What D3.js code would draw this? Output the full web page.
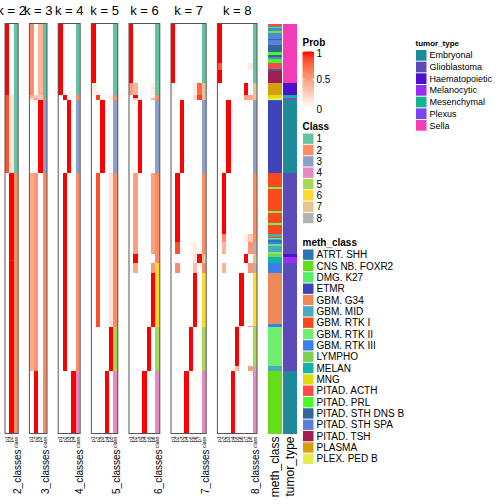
<!DOCTYPE html>
<html><head><meta charset="utf-8">
<script src="https://cdn.jsdelivr.net/npm/d3@7"></script>
<style>body{margin:0;background:#fff}svg{display:block}text{font-family:"Liberation Sans",Arial,Helvetica,sans-serif}</style>
</head><body><svg id="c" width="504" height="504"></svg>
<script>
// ---------- data ----------
const kValues = [2,3,4,5,6,7,8];
const nSamples = 342;
// runs: [number of samples, assigned class, membership probabilities p1..pk]
const runsK2 = [[60,1,[1,0]],[65,1,[0.85,0.15]],[72,2,[0,1]],[1,2,[0.06,0.94]],[144,2,[0,1]]];
const runsK3 = [[60,1,[0.6,0,0.4]],[2,1,[0.4,0.3,0.3]],[2,2,[0.2,0.5,0.3]],[61,3,[0,0,1]],[165,2,[0.45,0.55,0]],[52,2,[0,1,0]]];
const runsK4 = [[60,1,[1,0,0,0]],[4,2,[0,1,0,0]],[61,3,[0,0,1,0]],[165,2,[0,1,0,0]],[52,4,[0,0,0,1]]];
const runsK5 = [[50,1,[1,0,0,0,0]],[10,1,[0.1,0.05,0,0,0]],[4,2,[0,0.9,0,0,0.1]],[61,3,[0,0,1,0,0]],[128,2,[0,0.85,0,0,0.15]],[37,5,[0,0,0,0,1]],[52,4,[0,0,0,1,0]]];
const runsK6 = [[50,1,[1,0,0,0,0,0]],[10,1,[0.5,0.4,0,0,0,0.1]],[2,2,[0,1,0,0,0,0]],[2,2,[0,0.3,0,0,0,0.4]],[61,3,[0,0,1,0,0,0]],[67,2,[0,0.5,0,0,0,0.5]],[8,2,[0,1,0,0,0,0]],[8,6,[0,0.45,0,0,0,0.55]],[45,6,[0,0,0,0,0,1]],[37,5,[0,0,0,0,1,0]],[52,4,[0,0,0,1,0,0]]];
const runsK7 = [[50,1,[1,0,0,0,0,0,0]],[10,7,[0.05,0,0,0,0,0.1,0.75]],[4,7,[0,0,0,0,0,0.2,0.9]],[61,3,[0,0,1,0,0,0,0]],[57,2,[0,1,0,0,0,0,0]],[10,2,[0,0.85,0,0,0.05,0.1,0]],[8,7,[0,0,0,0,0,0.15,1]],[8,2,[0,0.6,0,0,0,0.35,0]],[45,6,[0,0,0,0,0,1,0]],[37,5,[0,0,0,0,1,0,0]],[52,4,[0,0,0,1,0,0,0]]];
const runsK8 = [[33,1,[1,0,0,0,0,0,0,0]],[6,1,[0.8,0,0,0,0,0,0,0.1]],[11,1,[1,0,0,0,0,0,0,0]],[10,7,[0,0,0,0,0,0,1,0]],[4,7,[0,0,0,0,0,0,0.5,0.45]],[61,3,[0,0,1,0,0,0,0,0]],[51,2,[0,1,0,0,0,0,0,0]],[6,2,[0,0.6,0,0,0,0,0.1,0.3]],[10,8,[0,0.4,0,0,0,0,0,0.55]],[8,7,[0,0,0,0,0,0,1,0]],[8,8,[0,0.4,0,0,0,0,0,0.55]],[44,6,[0,0,0,0,0,1,0,0]],[1,8,[0,0,0,0,0.3,0.2,0,0.5]],[33,5,[0,0,0,0,1,0,0,0]],[4,8,[0,0,0,0,0.35,0,0,0.5]],[52,4,[0,0,0,1,0,0,0,0]]];
const runsByK = [runsK2,runsK3,runsK4,runsK5,runsK6,runsK7,runsK8];

const methRuns = [[2,"PITAD. ACTH"],[1,"PITAD. STH SPA"],[1,"PITAD. PRL"],[2,"PITAD. STH SPA"],[2,"PITAD. PRL"],[5,"PITAD. STH SPA"],[1,"PITAD. STH DNS B"],[4,"PITAD. STH SPA"],[6,"PITAD. STH DNS B"],[2,"PITAD. PRL"],[2,"PITAD. STH DNS B"],[2,"PITAD. STH SPA"],[3,"PITAD. PRL"],[5,"PITAD. ACTH"],[2,"PITAD. STH DNS B"],[10,"PITAD. TSH"],[10,"PLASMA"],[2,"MNG"],[2,"PLEX. PED B"],[1,"ATRT. SHH"],[60,"ETMR"],[11,"GBM. RTK I"],[2,"GBM. RTK II"],[18,"GBM. RTK I"],[2,"GBM. RTK II"],[8,"GBM. RTK I"],[2,"GBM. RTK II"],[8,"GBM. RTK I"],[2,"GBM. MID"],[1,"GBM. RTK I"],[1,"GBM. RTK II"],[1,"GBM. MID"],[1,"ATRT. SHH"],[2,"GBM. RTK III"],[2,"DMG. K27"],[5,"GBM. MID"],[1,"GBM. RTK II"],[3,"LYMPHO"],[5,"MELAN"],[8,"GBM. RTK III"],[43,"GBM. G34"],[2,"GBM. RTK III"],[33,"GBM. RTK II"],[4,"GBM. MID"],[52,"CNS NB. FOXR2"]];
const tumorRuns = [[50,"Sella"],[10,"Haematopoietic"],[2,"Mesenchymal"],[2,"Plexus"],[61,"Embryonal"],[67,"Glioblastoma"],[3,"Haematopoietic"],[5,"Melanocytic"],[90,"Glioblastoma"],[52,"Embryonal"]];

const classLevels = [1,2,3,4,5,6,7,8];
const classColors = ["#66c2a5","#fc8d62","#8da0cb","#e78ac3","#a6d854","#ffd92f","#e5c494","#b3b3b3"];
const methLevels = ["ATRT. SHH","CNS NB. FOXR2","DMG. K27","ETMR","GBM. G34","GBM. MID","GBM. RTK I","GBM. RTK II","GBM. RTK III","LYMPHO","MELAN","MNG","PITAD. ACTH","PITAD. PRL","PITAD. STH DNS B","PITAD. STH SPA","PITAD. TSH","PLASMA","PLEX. PED B"];
const methColors = ["#2a74b8","#66dd1a","#55ee66","#3c44b8","#ee8a5a","#4aa8c0","#fb4a1a","#70ee70","#3a80e8","#80d050","#10b4a8","#e0dc10","#ff4848","#44ff22","#336699","#5a80dd","#a01e50","#d4a010","#e8ec50"];
const tumorLevels = ["Embryonal","Glioblastoma","Haematopoietic","Melanocytic","Mesenchymal","Plexus","Sella"];
const tumorColors = ["#1f8a9a","#5b4ab8","#4a12cc","#9b2ef2","#19b58a","#7a44ee","#f43cb8"];
const probTicks = [0,0.5,1];

// ---------- drawing ----------
const svg = d3.select("#c");
const yTop = 23.5, yBottom = 433.5;
const y = d3.scaleLinear().domain([0,nSamples]).range([yTop,yBottom]);
const probColor = d3.scaleLinear().domain([0,1]).range(["#ffffff","#ff0000"]).interpolate(d3.interpolateLab);
const classColor = d3.scaleOrdinal().domain(classLevels).range(classColors);
const methColor = d3.scaleOrdinal().domain(methLevels).range(methColors);
const tumorColor = d3.scaleOrdinal().domain(tumorLevels).range(tumorColors);

const colW = 4.4, gap = 11.2;
let x0 = 5;
kValues.forEach((k,i)=>{
  const cols = d3.range(1,k+1).map(j=>"p"+j).concat(["class"]);
  const xb = d3.scaleBand().domain(cols).range([x0, x0+cols.length*colW]);
  const g = svg.append("g");
  let start = 0;
  runsByK[i].forEach(([n,cls,p])=>{
    p.forEach((v,j)=>{
      g.append("rect").attr("x",xb("p"+(j+1))).attr("y",y(start)).attr("width",xb.bandwidth()).attr("height",y(start+n)-y(start))
        .attr("fill",probColor(v)).attr("shape-rendering","crispEdges");
    });
    g.append("rect").attr("x",xb("class")).attr("y",y(start)).attr("width",xb.bandwidth()).attr("height",y(start+n)-y(start))
      .attr("fill",classColor(cls)).attr("shape-rendering","crispEdges");
    start += n;
  });
  g.append("rect").attr("x",xb.range()[0]).attr("y",yTop).attr("width",xb.range()[1]-xb.range()[0]).attr("height",yBottom-yTop)
    .attr("fill","none").attr("stroke","#555").attr("stroke-width",1);
  svg.append("text").attr("x",(xb.range()[0]+xb.range()[1])/2).attr("y",15).attr("text-anchor","middle")
    .attr("font-size",13).text("k = "+k);
  cols.forEach(c=>{
    svg.append("text").attr("transform",`translate(${xb(c)+xb.bandwidth()/2},${yBottom+3}) rotate(-90)`)
      .attr("text-anchor","end").attr("dy","0.35em").attr("font-size",5).text(c);
  });
  svg.append("text").attr("transform",`translate(${xb("class")+xb.bandwidth()/2+1},${yBottom+16}) rotate(-90)`)
    .attr("text-anchor","end").attr("dy","0.35em").attr("font-size",10).text(k+"_classes");
  x0 += cols.length*colW + gap;
});

function annot(runs, color, xa, w, name){
  let s = 0;
  runs.forEach(([n,v])=>{
    svg.append("rect").attr("x",xa).attr("y",y(s)).attr("width",w).attr("height",y(s+n)-y(s))
      .attr("fill",color(v)).attr("shape-rendering","crispEdges");
    s += n;
  });
  svg.append("text").attr("transform",`translate(${xa+w/2},${yBottom+3}) rotate(-90)`)
    .attr("text-anchor","end").attr("dy","0.35em").attr("font-size",12).text(name);
}
annot(methRuns, methColor, 268, 14, "meth_class");
annot(tumorRuns, tumorColor, 283.3, 13.7, "tumor_type");

const lx = 302.5;
svg.append("text").attr("x",lx).attr("y",46).attr("font-size",10).attr("font-weight","bold").text("Prob");
const defs = svg.append("defs");
const grad = defs.append("linearGradient").attr("id","pg").attr("x1",0).attr("x2",0).attr("y1",1).attr("y2",0);
d3.range(0,1.01,0.1).forEach(t=>grad.append("stop").attr("offset",t).attr("stop-color",probColor(t)));
const ly = d3.scaleLinear().domain([0,1]).range([108,51.5]);
svg.append("rect").attr("x",lx).attr("y",ly(1)).attr("width",11.5).attr("height",ly(0)-ly(1)).attr("fill","url(#pg)");
probTicks.forEach(t=>{
  svg.append("line").attr("x1",lx).attr("x2",lx+2).attr("y1",ly(t)).attr("y2",ly(t)).attr("stroke","#fff").attr("stroke-width",0.8);
  svg.append("line").attr("x1",lx+9.5).attr("x2",lx+11.5).attr("y1",ly(t)).attr("y2",ly(t)).attr("stroke","#fff").attr("stroke-width",0.8);
  svg.append("text").attr("x",lx+14).attr("y",ly(t)+(t===1?2:t===0?1:0)).attr("dy","0.35em").attr("font-size",10).text(String(t));
});

function discreteLegend(title, levels, color, xl, yTitle, size, step, fs, tfs){
  svg.append("text").attr("x",xl).attr("y",yTitle).attr("font-size",tfs).attr("font-weight","bold").text(title);
  const yy = d3.scaleBand().domain(levels).range([yTitle+3.5, yTitle+3.5+levels.length*step]);
  levels.forEach(l=>{
    svg.append("rect").attr("x",xl+0.5).attr("y",yy(l)+0.5).attr("width",size).attr("height",step-1).attr("fill",color(l));
    svg.append("text").attr("x",xl+size+3.5).attr("y",yy(l)+step/2).attr("dy","0.35em").attr("font-size",fs).text(l);
  });
}
discreteLegend("Class", classLevels, classColor, 302.5, 129.5, 10.5, 11.34, 10, 10);
discreteLegend("meth_class", methLevels, methColor, 302.5, 245.5, 10.5, 11.34, 10, 10);
discreteLegend("tumor_type", tumorLevels, tumorColor, 415.5, 46, 10.5, 11.67, 9, 8);
</script></body></html>
